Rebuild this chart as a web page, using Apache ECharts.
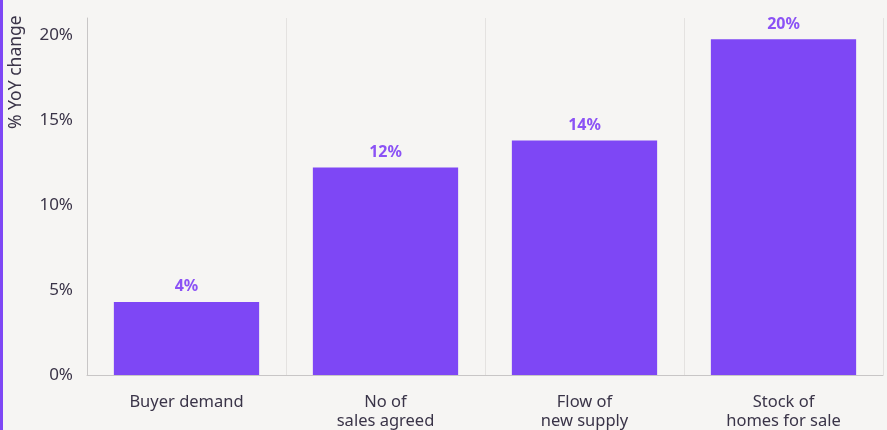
<!DOCTYPE html>
<html><head><meta charset="utf-8">
<script src="https://cdn.jsdelivr.net/npm/echarts@6/dist/echarts.min.js"></script>
<style>html,body{margin:0;padding:0;background:#f6f5f3;}#c{width:887px;height:430px;}</style>
</head><body><div id="c"></div>
<script>
const categories = ['Buyer demand', 'No of\nsales agreed', 'Flow of\nnew supply', 'Stock of\nhomes for sale'];
const values = [4.3, 12.2, 13.8, 19.75];
const valueLabels = ['4%', '12%', '14%', '20%'];
const yTicks = [0, 5, 10, 15, 20];

const FONT = '"Noto Sans", sans-serif';
const chart = echarts.init(document.getElementById('c'));
chart.setOption({
  backgroundColor: '#f6f5f3',
  textStyle: { fontFamily: FONT },
  grid: { left: 87, right: 4, top: 18, bottom: 55, outerBoundsMode: 'none', containLabel: false },
  graphic: [
    { type: 'rect', left: 0, top: 0, shape: { width: 3, height: 430 }, style: { fill: '#7e47f5' } },
    { type: 'text', x: 7, y: 129, rotation: Math.PI / 2,
      style: { text: '% YoY change', fill: '#3a3448', font: '17.5px ' + FONT, textAlign: 'left', textVerticalAlign: 'top' } }
  ],
  xAxis: {
    type: 'category', data: categories,
    axisLine: { lineStyle: { color: '#c8c6c6' } },
    axisTick: { show: false },
    splitLine: { show: true, lineStyle: { color: '#e4e2e0', width: 1 } },
    axisLabel: { color: '#3a3448', fontSize: 16.5, lineHeight: 19, margin: 18, interval: 0 }
  },
  yAxis: {
    type: 'value', min: 0, max: 21, interval: 5,
    axisLine: { show: true, lineStyle: { color: '#c8c6c6' } },
    axisTick: { show: false },
    splitLine: { show: false },
    axisLabel: { color: '#3a3448', fontSize: 17, margin: 14, formatter: v => yTicks.includes(v) ? v + '%' : '' }
  },
  series: [{
    type: 'bar', data: values, barWidth: '73%',
    itemStyle: { color: '#7e47f5' },
    label: { show: true, position: 'top', distance: 7, color: '#8b52f5', fontWeight: 'bold', fontSize: 16,
      formatter: p => valueLabels[p.dataIndex] }
  }]
});
</script></body></html>
